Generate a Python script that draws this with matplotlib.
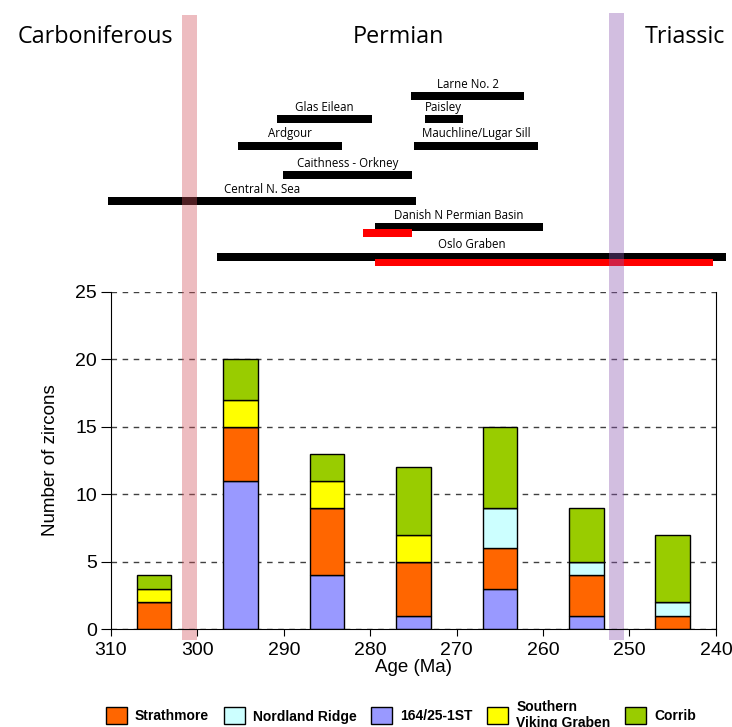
import matplotlib
matplotlib.use("Agg")
import matplotlib.pyplot as plt
import matplotlib.patches as mpatches
import numpy as np

# zircon counts per 10 Ma bin
ages = [305, 295, 285, 275, 265, 255, 245]
zircon_164 = [0, 11, 4, 1, 3, 1, 0]
strathmore = [2, 4, 5, 4, 3, 3, 1]
nordland = [0, 0, 0, 0, 3, 1, 1]
s_viking = [1, 2, 2, 2, 0, 0, 0]
corrib = [1, 3, 2, 5, 6, 4, 5]

# magmatic events (older age, younger age, row)
events = ["Larne No. 2", "Glas Eilean", "Paisley", "Ardgour", "Mauchline/Lugar Sill",
          "Caithness - Orkney", "Central N. Sea", "Danish N Permian Basin", "Oslo Graben"]
ev_start = [275.3, 290.8, 273.7, 295.3, 274.9, 290.1, 310.3, 279.5, 297.7]
ev_end = [262.2, 279.8, 269.3, 283.3, 260.6, 275.2, 274.7, 260.0, 238.8]
ev_row = [0, 0.86, 0.86, 1.84, 1.84, 2.94, 3.93, 4.89, 6.0]
# red sub-ranges
red_start = [280.8, 279.5]
red_end = [275.2, 240.3]
red_row = [4.89, 6.0]

boundaries = [300.9, 251.5]

fig = plt.figure(figsize=(7.32, 7.27), dpi=100)

# top panel with the event bars
top = fig.add_axes([0.1516, 0.6, 0.8264, 0.4])
top.set_xlim(310, 240)
top.set_ylim(7.28, -3.61)
top.axis("off")
for name, s, e, r in zip(events, ev_start, ev_end, ev_row):
    top.barh(r, e - s, left=s, height=0.3, color="black", clip_on=False)
    top.text((s + e) / 2, r - 0.2, name, ha="center", va="bottom",
             fontsize=8.3, family="Open Sans")
for s, e, r in zip(red_start, red_end, red_row):
    top.barh(r + 0.22, e - s, left=s, height=0.28, color="#ff0000", clip_on=False)

fig.text(95 / 732, 1 - 37 / 727, "Carboniferous", ha="center", va="center",
         fontsize=16.8, family="Open Sans")
fig.text(398 / 732, 1 - 37 / 727, "Permian", ha="center", va="center",
         fontsize=16.8, family="Open Sans")
fig.text(685 / 732, 1 - 37 / 727, "Triassic", ha="center", va="center",
         fontsize=16.8, family="Open Sans")

# main histogram
ax = fig.add_axes([0.1516, 0.1348, 0.8264, 0.4638])
series = [("164/25-1ST", zircon_164, "#9999ff"),
          ("Strathmore", strathmore, "#ff6600"),
          ("Nordland Ridge", nordland, "#ccffff"),
          ("Southern\nViking Graben", s_viking, "#ffff00"),
          ("Corrib", corrib, "#99cc00")]
bottom = np.zeros(len(ages))
for name, vals, col in series:
    vals = np.array(vals)
    ax.bar(ages, vals, width=4, bottom=bottom, color=col, edgecolor="black",
           linewidth=1, zorder=2)
    bottom += vals

ax.set_xlim(310, 240)
ax.set_ylim(0, 25)
ax.set_xticks(range(310, 239, -10))
ax.set_yticks(range(0, 26, 5))
ax.yaxis.grid(True, linestyle=(0, (4, 4)), color="0.25", linewidth=1)
ax.set_axisbelow(True)
ax.spines["top"].set_visible(False)
ax.tick_params(axis="y", length=7, labelsize=14, pad=3)
ax.tick_params(axis="x", length=5, labelsize=14, pad=4)
for lab in ax.get_xticklabels() + ax.get_yticklabels():
    lab.set_family("Liberation Sans")
ax.set_xlabel("Age (Ma)", fontsize=13.5, family="Liberation Sans", labelpad=0)
ax.set_ylabel("Number of zircons", fontsize=13.5, family="Liberation Sans", labelpad=12)

# period boundaries
ax.axvspan(boundaries[0] + 0.9, boundaries[0] - 0.9, ymin=-0.033, ymax=1.82,
           color="#d0505a", alpha=0.38, lw=0, clip_on=False, zorder=1)
ax.axvspan(boundaries[1] + 0.9, boundaries[1] - 0.9, ymin=-0.033, ymax=1.827,
           color="#8a55b0", alpha=0.38, lw=0, clip_on=False, zorder=1)

# legend
order = [1, 2, 0, 3, 4]
handles = [mpatches.Patch(facecolor=series[i][2], edgecolor="black", linewidth=1) for i in order]
labels = [series[i][0] for i in order]
fig.legend(handles, labels, loc="center", bbox_to_anchor=(401 / 732, 1 - 715 / 727),
           ncol=5, frameon=False, handlelength=1.5, handleheight=1.5,
           handletextpad=0.6, columnspacing=1.05,
           prop={"family": "Liberation Sans", "weight": "bold", "size": 10})

fig.savefig("out.png", dpi=100)
